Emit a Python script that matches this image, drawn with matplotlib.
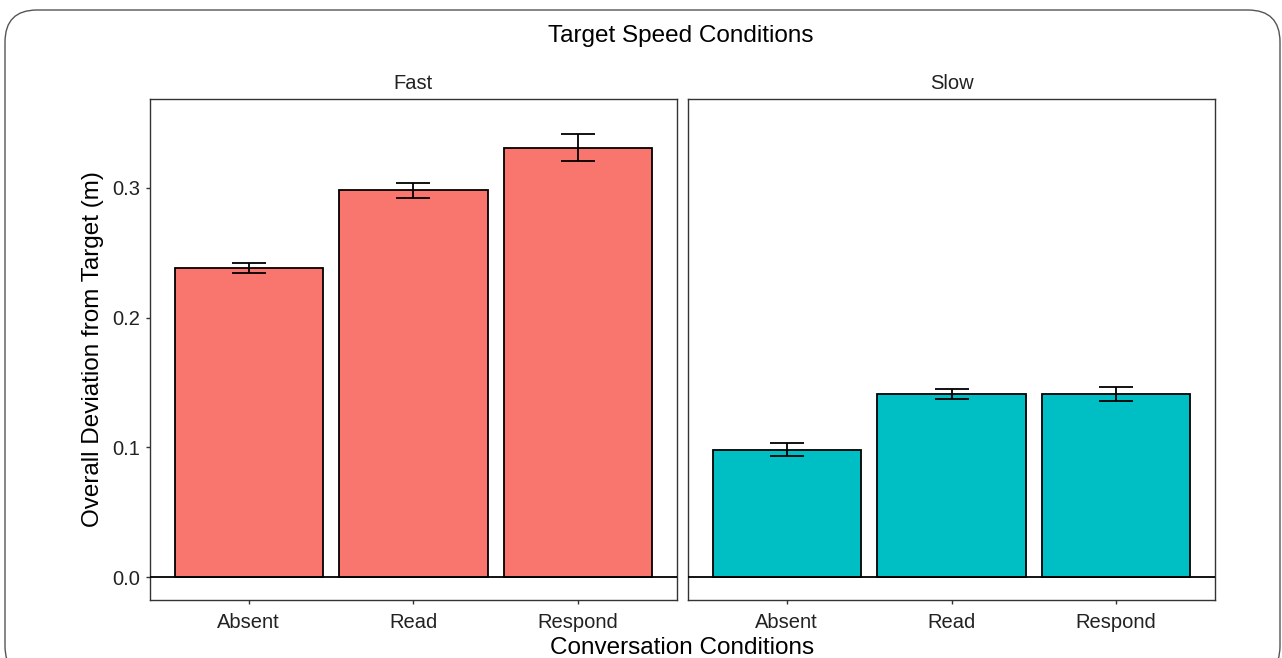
import numpy as np
import matplotlib.pyplot as plt
from matplotlib.patches import FancyBboxPatch

plt.rcParams['font.family'] = ['Liberation Sans', 'DejaVu Sans']

conditions = ['Absent', 'Read', 'Respond']
fast_mean = [0.238, 0.298, 0.331]
fast_err = [0.004, 0.0055, 0.0105]
slow_mean = [0.098, 0.141, 0.141]
slow_err = [0.005, 0.004, 0.0055]
panels = ['Fast', 'Slow']
colors = ['#F8766D', '#00BFC4']

W, H = 1282, 658
fig = plt.figure(figsize=(W / 100, H / 100), dpi=100)

# rounded outer frame
frame = FancyBboxPatch((5 / W, -20 / H), 1275 / W, (H - 10 + 20) / H,
                       boxstyle='round,pad=0,rounding_size=0.025',
                       transform=fig.transFigure, fill=False,
                       edgecolor='#555555', linewidth=1.0, mutation_aspect=W / H)
fig.patches.append(frame)

def px_axes(x0, y0, x1, y1):
    return fig.add_axes([x0 / W, 1 - y1 / H, (x1 - x0) / W, (y1 - y0) / H])

boxes = [(150, 99, 677, 600), (688, 99, 1215, 600)]
data = [(fast_mean, fast_err), (slow_mean, slow_err)]
x = np.arange(1, len(conditions) + 1)

for i, (box, (m, e)) in enumerate(zip(boxes, data)):
    ax = px_axes(*box)
    ax.bar(x, m, width=0.9, color=colors[i], edgecolor='black', linewidth=1.3, zorder=2)
    ax.errorbar(x, m, yerr=e, fmt='none', ecolor='black', elinewidth=1.3,
                capsize=12, capthick=1.3, zorder=3)
    ax.axhline(0, color='black', linewidth=1.3, zorder=4)
    ax.set_xlim(0.4, 3.6)
    ax.set_ylim(-0.0177, 0.3685)
    ax.set_xticks(x)
    ax.set_xticklabels(conditions, fontsize=14.5, color='#222222')
    ax.set_yticks([0.0, 0.1, 0.2, 0.3])
    for s in ax.spines.values():
        s.set_color('#333333')
        s.set_linewidth(1.0)
    ax.tick_params(axis='both', length=3, width=1.0, color='#333333', pad=4)
    ax.tick_params(axis='x', pad=6)
    if i == 0:
        ax.set_yticklabels(['0.0', '0.1', '0.2', '0.3'], fontsize=14.5, color='#222222')
        ax.set_ylabel('Overall Deviation from Target (m)', fontsize=17.5, labelpad=6)
    else:
        ax.tick_params(axis='y', left=False, labelleft=False)
    ax.set_title(panels[i], fontsize=14.5, pad=7, color='#222222')

fig.text(681 / W, 1 - 36 / H, 'Target Speed Conditions', ha='center', va='center', fontsize=17.5)
fig.text(682 / W, 1 - 648 / H, 'Conversation Conditions', ha='center', va='center', fontsize=17.5)

fig.savefig('out.png', dpi=100)
